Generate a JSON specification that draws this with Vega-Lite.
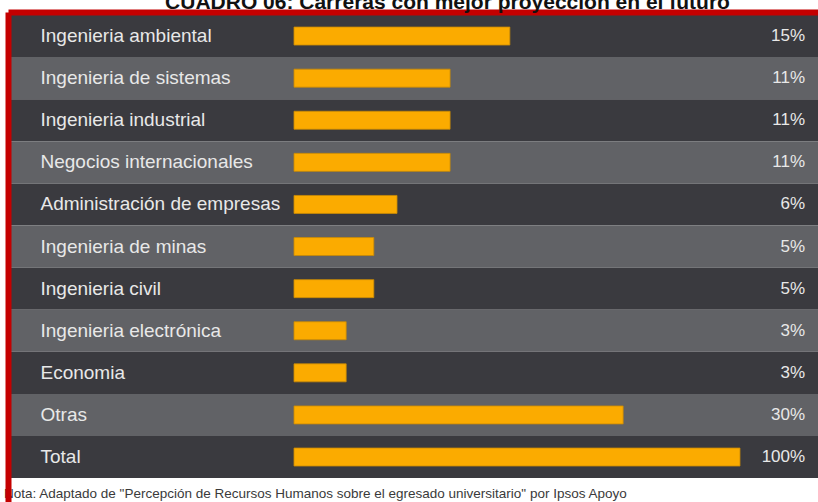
{
  "$schema": "https://vega.github.io/schema/vega-lite/v6.json",
  "autosize": "none",
  "width": 807,
  "height": 487,
  "padding": {"left": 11, "top": 15, "right": 0, "bottom": 0},
  "background": "#ffffff",
  "config": {"view": {"stroke": null}, "font": "Liberation Sans"},
  "title": {
    "text": "Nota: Adaptado de \"Percepción de Recursos Humanos sobre el egresado universitario\" por Ipsos Apoyo",
    "orient": "bottom",
    "anchor": "start",
    "frame": "group",
    "fontSize": 13.5,
    "fontWeight": "normal",
    "color": "#3a3a3a",
    "offset": 0,
    "dy": -15,
    "dx": -7
  },
  "data": {
    "values": [
      {"carrera": "Ingenieria ambiental", "porcentaje": "15%", "longitud": 48.4},
      {"carrera": "Ingenieria de sistemas", "porcentaje": "11%", "longitud": 35.0},
      {"carrera": "Ingenieria industrial", "porcentaje": "11%", "longitud": 35.0},
      {"carrera": "Negocios internacionales", "porcentaje": "11%", "longitud": 35.0},
      {"carrera": "Administración de empresas", "porcentaje": "6%", "longitud": 23.1},
      {"carrera": "Ingenieria de minas", "porcentaje": "5%", "longitud": 17.9},
      {"carrera": "Ingenieria civil", "porcentaje": "5%", "longitud": 17.9},
      {"carrera": "Ingenieria electrónica", "porcentaje": "3%", "longitud": 11.7},
      {"carrera": "Economia", "porcentaje": "3%", "longitud": 11.7},
      {"carrera": "Otras", "porcentaje": "30%", "longitud": 73.8},
      {"carrera": "Total", "porcentaje": "100%", "longitud": 100}
    ]
  },
  "encoding": {
    "y": {
      "field": "carrera",
      "type": "nominal",
      "sort": null,
      "scale": {"paddingInner": 0, "paddingOuter": 0.284, "align": 0},
      "axis": {
        "title": null,
        "ticks": false,
        "domainColor": "#c40000",
        "domainWidth": 6,
        "domainCap": "square",
        "offset": 3,
        "labelAlign": "left",
        "labelPadding": -32,
        "labelLimit": 0,
        "labelFontSize": 19,
        "labelColor": "#e8e8e8",
        "labelFont": "Liberation Sans",
        "zindex": 1
      }
    }
  },
  "layer": [
    {
      "mark": {"type": "rect"},
      "encoding": {
        "color": {
          "field": "carrera",
          "type": "nominal",
          "legend": null,
          "scale": {
            "domain": ["Ingenieria ambiental", "Ingenieria de sistemas", "Ingenieria industrial", "Negocios internacionales", "Administración de empresas", "Ingenieria de minas", "Ingenieria civil", "Ingenieria electrónica", "Economia", "Otras", "Total"],
            "range": ["#3a3a3f", "#616266", "#3a3a3f", "#616266", "#3a3a3f", "#616266", "#3a3a3f", "#616266", "#3a3a3f", "#616266", "#3a3a3f"]
          }
        }
      }
    },
    {
      "mark": {"type": "bar", "color": "#fbab00", "height": 18, "stroke": "#c98a05", "strokeWidth": 0.8},
      "encoding": {
        "x": {
          "field": "longitud",
          "type": "quantitative",
          "scale": {"domain": [-63.45, 117.49], "nice": false, "zero": false},
          "axis": {
            "orient": "top",
            "labels": false,
            "ticks": false,
            "grid": false,
            "domainColor": "#c40000",
            "domainWidth": 6,
            "domainCap": "square",
            "offset": 3,
            "title": "CUADRO 06: Carreras con mejor proyección en el futuro",
            "titleFontSize": 21,
            "titleFontWeight": "bold",
            "titleColor": "#111111",
            "titleFont": "Liberation Sans",
            "titleBaseline": "alphabetic",
            "titlePadding": 4,
            "titleAlign": "center",
            "titleX": 436,
            "zindex": 1
          }
        }
      }
    },
    {
      "mark": {"type": "text", "align": "right", "baseline": "middle", "fontSize": 17, "color": "#e8e8e8", "font": "Liberation Sans"},
      "encoding": {
        "x": {"datum": 114.6, "type": "quantitative"},
        "text": {"field": "porcentaje", "type": "nominal"}
      }
    }
  ]
}
